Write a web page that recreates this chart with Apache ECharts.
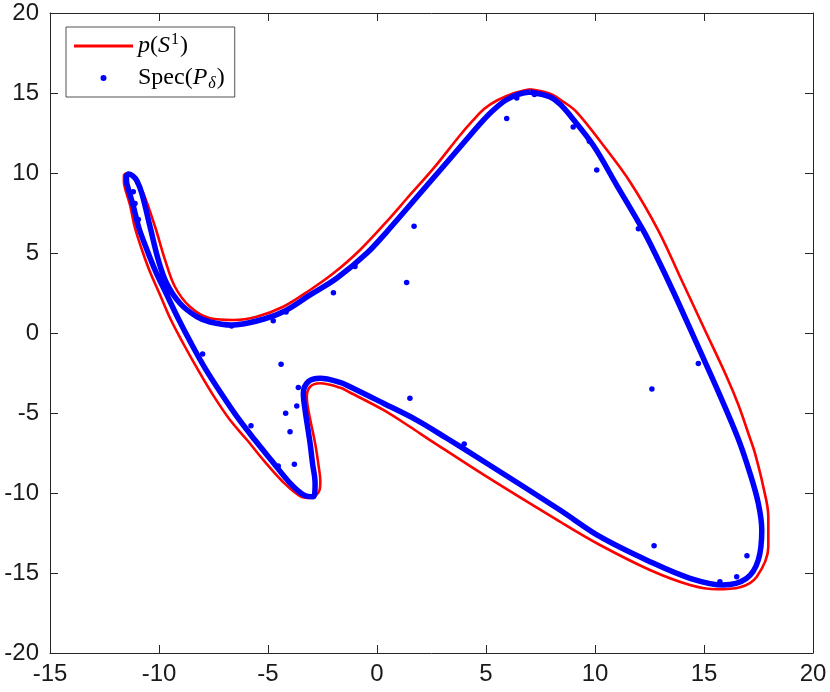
<!DOCTYPE html>
<html>
<head>
<meta charset="utf-8">
<script src="https://cdn.jsdelivr.net/npm/echarts@6/dist/echarts.min.js"></script>
<style>html,body{margin:0;padding:0;background:#fff}#c{width:830px;height:692px}</style>
</head>
<body>
<div id="c"></div>
<script>
// Tick labels
const xTicks = [-15, -10, -5, 0, 5, 10, 15, 20];
const yTicks = [-20, -15, -10, -5, 0, 5, 10, 15, 20];

// Red curve p(S^1), in drawing order
const redCurve = [
  [7.02,15.23],[6.24,14.97],[5.5,14.53],[4.91,14.0],[4.36,13.22],[3.81,12.36],[2.58,10.27],
  [1.36,8.39],[0.6,7.2],[-0.78,5.19],[-2.0,3.73],[-3.07,2.69],[-4.3,1.64],[-5.52,1.02],
  [-6.59,0.81],[-7.66,0.92],[-8.58,1.64],[-9.27,2.89],[-9.72,4.56],[-10.18,6.64],
  [-10.72,8.73],[-10.99,9.31],[-11.24,9.84],[-11.44,10.0],[-11.61,9.84],[-11.61,9.44],
  [-11.51,8.81],[-11.33,8.0],[-11.1,6.56],[-10.78,5.19],[-10.41,3.81],
  [-9.95,2.38],[-9.45,0.81],[-8.85,-0.75],[-8.21,-2.31],[-7.52,-3.88],[-6.74,-5.44],
  [-5.96,-6.69],[-5.14,-8.06],[-4.31,-9.31],[-3.53,-10.19],[-3.07,-10.31],[-2.8,-10.15],
  [-2.63,-9.8],[-2.6,-9.3],[-2.68,-8.3],[-2.84,-6.89],[-3.15,-4.81],[-3.22,-3.98],[-3.07,-3.36],
  [-2.61,-3.14],[-1.7,-3.41],[-1.24,-3.72],[0.29,-4.81],[1.51,-5.86],[2.43,-6.69],
  [5.03,-8.98],[8.39,-11.79],[10.23,-13.25],[12.52,-14.81],[14.36,-15.75],[15.58,-16.02],
  [16.65,-15.89],[17.42,-15.23],[17.95,-13.36],[17.95,-11.48],[17.72,-9.61],[17.34,-7.52],
  [17.11,-6.58],[16.58,-4.5],[16.04,-2.73],[14.97,0.39],[13.9,3.52],[12.9,6.42],[11.61,9.44],
  [10.38,11.73],[9.16,13.81],[8.53,14.47],[7.94,14.96],[7.02,15.23]
];

// Dense blue spectrum band, in drawing order
const blueCurve = [
  [7.02,15.06],[6.47,14.91],[5.92,14.56],[5.37,13.97],[4.86,13.28],[4.4,12.56],[3.2,10.66],
  [1.97,8.72],[0.98,7.16],[0.44,6.31],[-0.47,4.98],[-1.85,3.42],[-3.07,2.38],[-4.3,1.33],
  [-5.52,0.75],[-6.67,0.5],[-7.66,0.69],[-8.27,1.02],[-9.04,1.86],[-9.65,3.11],[-10.03,4.56],
  [-10.41,6.64],[-10.79,8.73],[-11.02,9.53],[-11.19,9.81],[-11.38,9.94],[-11.49,9.81],
  [-11.49,9.5],[-11.42,9.06],[-11.19,8.0],[-10.92,6.56],
  [-10.55,5.19],[-10.14,3.81],[-9.68,2.5],[-9.13,0.94],[-8.53,-0.63],[-7.89,-2.19],
  [-7.16,-3.75],[-6.38,-5.31],[-5.6,-6.69],[-4.82,-8.0],[-3.99,-9.38],[-3.35,-10.13],
  [-2.92,-10.23],[-2.84,-9.39],[-2.96,-8.13],[-3.07,-6.89],[-3.3,-4.81],[-3.38,-3.77],
  [-3.15,-3.04],[-2.61,-2.83],[-1.7,-3.08],[-1.24,-3.36],[0.29,-4.39],[1.82,-5.44],
  [3.2,-6.58],[5.03,-8.14],[8.39,-11.06],[10.23,-12.73],[12.52,-14.29],[14.36,-15.33],
  [15.89,-15.75],[16.96,-15.33],[17.49,-14.19],[17.65,-12.31],[17.49,-10.64],[17.11,-8.77],
  [16.56,-6.58],[15.69,-3.77],[14.66,-0.64],[13.62,2.5],[12.75,4.98],[12.2,6.44],
  [11.0,9.23],[9.92,11.73],[8.85,13.61],[8.39,14.31],[7.94,14.75],[7.02,15.06]
];

// Isolated spectrum points
const blueDots = [
  [1.7,6.67],[5.95,13.4],[6.41,14.69],[7.22,14.9],[9.0,12.88],[9.74,11.98],[10.08,10.19],
  [11.99,6.52],[1.36,3.15],[-2.0,2.52],[-1.01,4.15],[1.51,-4.08],[-4.76,0.77],[-4.17,1.31],
  [-6.67,0.44],[-8.0,-1.31],[-4.4,-1.96],[-3.61,-3.4],[-3.68,-4.56],[-4.19,-5.02],
  [-3.99,-6.17],[-5.78,-5.79],[-3.79,-8.21],[-4.53,-8.31],[-11.1,8.1],[-10.95,7.1],
  [-11.18,8.83],[14.74,-1.9],[12.61,-3.5],[4.0,-6.94],[12.71,-13.29],[16.97,-13.92],
  [16.5,-15.23],[15.73,-15.54]
];

const RED_NAME = 'p(S1)';
const BLUE_NAME = 'Spec(P)';

const axisColor = '#262626';
const labelFont = 'Liberation Sans';

function makeAxis(pos, showLabel, ticks, margin) {
  return {
    type: 'value',
    position: pos,
    min: ticks[0],
    max: ticks[ticks.length - 1],
    interval: ticks[1] - ticks[0],
    axisLine: { show: true, onZero: false, lineStyle: { color: axisColor, width: 1 } },
    axisTick: { show: true, inside: true, length: 8, lineStyle: { color: axisColor, width: 1 } },
    axisLabel: { show: showLabel, color: '#1a1a1a', fontSize: 24, fontFamily: labelFont, margin: margin },
    splitLine: { show: false }
  };
}

const chart = echarts.init(document.getElementById('c'), null, { renderer: 'canvas' });
chart.setOption({
  backgroundColor: '#ffffff',
  animation: false,
  grid: { left: 50, right: 17, top: 13, bottom: 39, containLabel: false },
  xAxis: [makeAxis('bottom', true, xTicks, 9), makeAxis('top', false, xTicks, 9)],
  yAxis: [makeAxis('left', true, yTicks, 11), makeAxis('right', false, yTicks, 11)],
  legend: {
    orient: 'vertical',
    left: 66,
    top: 27,
    padding: [5, 10, 5, 8],
    itemGap: 4,
    itemWidth: 59,
    itemHeight: 6,
    backgroundColor: '#ffffff',
    borderColor: axisColor,
    borderWidth: 0.8,
    borderRadius: 0,
    selectedMode: false,
    data: [
      { name: RED_NAME, icon: 'path://M0,0L59,0L59,3L0,3Z', itemStyle: { color: '#ff0000', borderWidth: 0 } },
      { name: BLUE_NAME, icon: 'circle', itemStyle: { color: '#0000ff', opacity: 1, borderWidth: 0 } }
    ],
    formatter: function (name) {
      if (name === RED_NAME) return '{i|p}{n|(}{i|S}{sup|1}{n|)}';
      return '{n|Spec(}{i|P}{sub|δ}{n|)}';
    },
    textStyle: {
      fontFamily: 'Liberation Serif',
      fontSize: 24,
      color: '#000',
      rich: {
        n: { fontFamily: 'Liberation Serif', fontSize: 24, color: '#000', lineHeight: 26 },
        i: { fontFamily: 'Liberation Serif', fontStyle: 'italic', fontSize: 24, color: '#000', lineHeight: 26 },
        sup: { fontFamily: 'Liberation Serif', fontSize: 16, color: '#000', lineHeight: 26, padding: [0, 1, 12, 1] },
        sub: { fontFamily: 'Liberation Serif', fontStyle: 'italic', fontSize: 16, color: '#000', lineHeight: 26, padding: [12, 1, 0, 1] }
      }
    }
  },
  series: [
    {
      name: RED_NAME,
      type: 'line',
      data: redCurve,
      smooth: 0.35,
      showSymbol: false,
      symbol: 'none',
      lineStyle: { color: '#ff0000', width: 2.6 },
      itemStyle: { color: '#ff0000' },
      z: 2
    },
    {
      name: 'spectrumBand',
      type: 'line',
      data: blueCurve,
      smooth: 0.35,
      showSymbol: false,
      symbol: 'none',
      lineStyle: { color: '#0000ff', width: 5.5 },
      itemStyle: { color: '#0000ff' },
      z: 3
    },
    {
      name: BLUE_NAME,
      type: 'scatter',
      data: blueDots,
      symbol: 'circle',
      symbolSize: 5.5,
      itemStyle: { color: '#0000ff', opacity: 1 },
      z: 4
    }
  ]
});
</script>
</body>
</html>
